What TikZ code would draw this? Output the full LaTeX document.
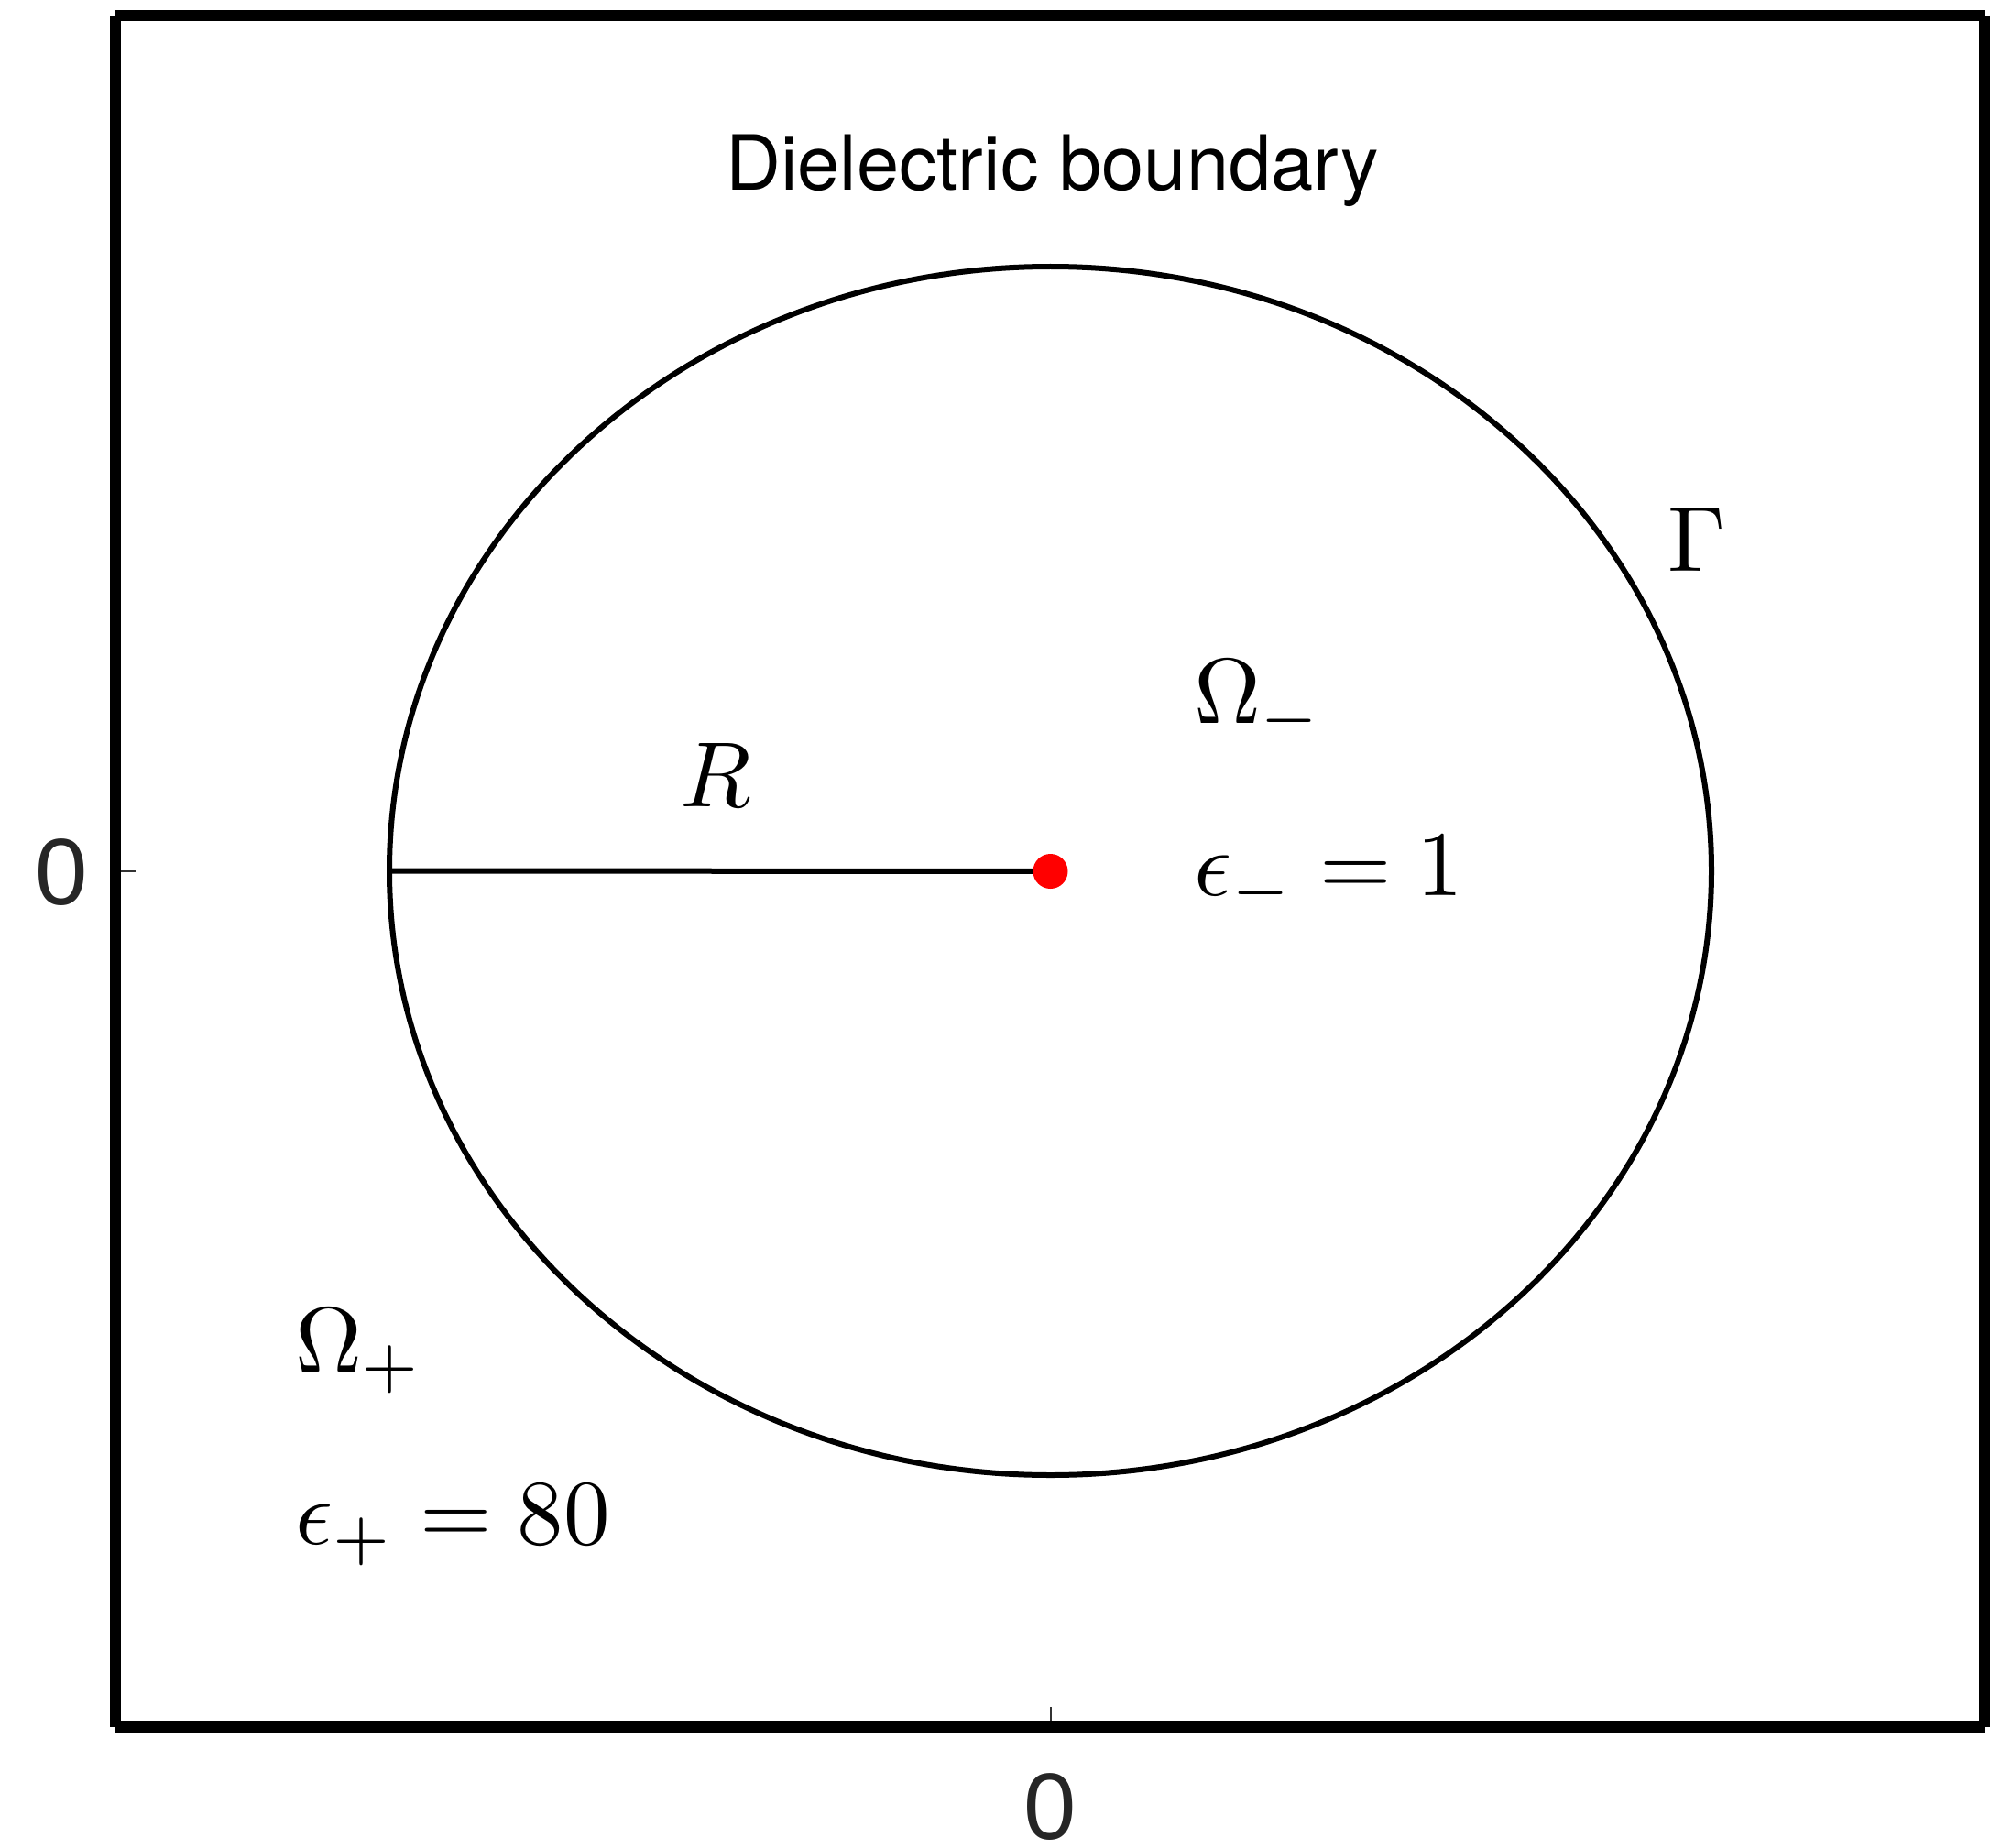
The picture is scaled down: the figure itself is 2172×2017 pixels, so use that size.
\documentclass[tikz,border=0pt]{standalone}
\usepackage{fontspec}
\usetikzlibrary{shapes.geometric}
\newfontfamily\heros{TeX Gyre Heros}
\newfontfamily\axisfont{Liberation Sans}
\definecolor{axisgray}{HTML}{262626}
\tikzset{
  framerule/.style={line width=12.5pt, line cap=butt},
  ticksty/.style={line width=2pt, draw=black!80},
  mathlbl/.style={anchor=base west, inner sep=0pt, scale=10.1},
  axislbl/.style={inner sep=0pt, text=axisgray, font=\axisfont\fontsize{103}{110}\selectfont},
}
\begin{document}
\begin{tikzpicture}[x=1pt,y=-1pt]
\useasboundingbox (0,0) rectangle (2172,2017);
% frame corners
\coordinate (tl) at (126,17);
\coordinate (tr) at (2166,17);
\coordinate (bl) at (126,1884.5);
\coordinate (br) at (2166,1884.5);
\draw[framerule] (tl) -- (tr);
\draw[framerule] (tl) -- (bl);
\draw[framerule] (bl) -- (br);
\draw[framerule] (tr) -- (br);
% ticks
\coordinate (lt1) at (132,951);
\coordinate (lt2) at (148,951);
\coordinate (bt1) at (1146.5,1878);
\coordinate (bt2) at (1146.5,1863);
\draw[ticksty] (lt1) -- (lt2);
\draw[ticksty] (bt1) -- (bt2);
\node[axislbl] (ylab) at (67,952) {0};
\node[axislbl] (xlab) at (1146.5,1972) {0};
% boundary
\node[draw, line width=6pt, ellipse, inner sep=0pt, minimum width=1443pt, minimum height=1319pt] (bd) at (1146.5,950.5) {};
\node[circle, fill=red, inner sep=0pt, minimum size=38pt] (dot) at (1146.5,951) {};
\draw[line width=6pt] (bd.west) -- (dot);
% labels
\node[anchor=base, inner sep=0pt, font=\heros\fontsize{83}{90}\selectfont] (title) at (1148.5,208) {Dielectric boundary};
\node[mathlbl] (rlab) at (740,880) {$R$};
\node[mathlbl] (om) at (1301,789) {$\Omega_-$};
\node[mathlbl] (em) at (1301,977) {$\epsilon_- = 1$};
\node[mathlbl] (gam) at (1818,623) {$\Gamma$};
\node[mathlbl] (op) at (320,1497) {$\Omega_+$};
\node[mathlbl] (ep) at (320,1685) {$\epsilon_+ = 80$};
\end{tikzpicture}
\end{document}
